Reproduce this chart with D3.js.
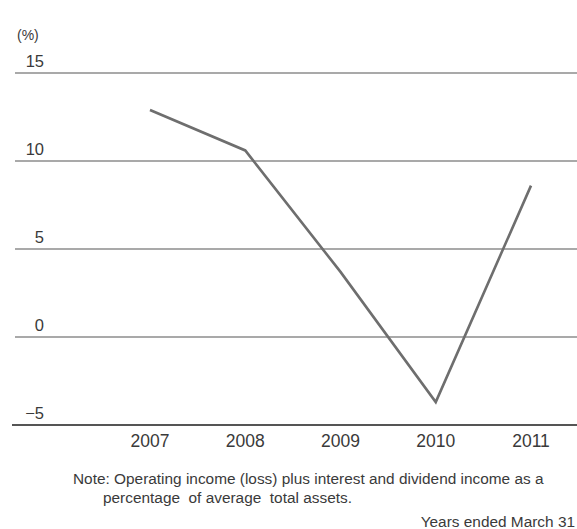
<!DOCTYPE html>
<html>
<head>
<meta charset="utf-8">
<script src="https://cdn.jsdelivr.net/npm/d3@7"></script>
<style>
  html, body { margin: 0; padding: 0; background: #fff; overflow: hidden; }
  svg { display: block; font-family: "Liberation Sans", Arial, sans-serif; }
</style>
</head>
<body>
<svg id="chart" width="577" height="529"></svg>
<script>
// Return on assets, fiscal years ended March 31
const years = [2007, 2008, 2009, 2010, 2011];
const roaValues = [12.9, 10.6, 3.7, -3.7, 8.6];
const yTicks = [15, 10, 5, 0, -5];
const unitLabel = "(%)";
const noteLines = [
  "Note: Operating income (loss) plus interest and dividend income as a",
  "percentage  of average  total assets."
];
const footerText = "Years ended March 31";

const svg = d3.select("#chart");

const x = d3.scaleLinear().domain([2007, 2011]).range([150, 531]);
const y = d3.scaleLinear().domain([-5, 15]).range([425, 73]);

const textColor = "#3a3a3a";

// horizontal gridlines (the -5 baseline doubles as the x axis)
svg.append("g")
  .selectAll("line")
  .data(yTicks)
  .join("line")
  .attr("x1", d => d === -5 ? 12 : 15)
  .attr("x2", 577)
  .attr("y1", d => y(d))
  .attr("y2", d => y(d))
  .attr("stroke", "#555")
  .attr("stroke-width", d => d === -5 ? 2.2 : 1.1);

// y tick labels sitting above each gridline
svg.append("g")
  .selectAll("text")
  .data(yTicks)
  .join("text")
  .attr("x", 44)
  .attr("y", d => y(d) - 6)
  .attr("text-anchor", "end")
  .attr("font-size", 16.5)
  .attr("fill", textColor)
  .text(d => d < 0 ? "\u2212" + Math.abs(d) : d);

svg.append("text")
  .attr("x", 17)
  .attr("y", 40)
  .attr("font-size", 14)
  .attr("fill", textColor)
  .text(unitLabel);

// year labels along the bottom axis
svg.append("g")
  .selectAll("text")
  .data(years)
  .join("text")
  .attr("x", d => x(d))
  .attr("y", 447)
  .attr("text-anchor", "middle")
  .attr("font-size", 17.5)
  .attr("fill", textColor)
  .text(d => d);

// data line
const line = d3.line()
  .x((d, i) => x(years[i]))
  .y(d => y(d));

svg.append("path")
  .datum(roaValues)
  .attr("d", line)
  .attr("fill", "none")
  .attr("stroke", "#6e6e6e")
  .attr("stroke-width", 2.6)
  .attr("stroke-linejoin", "miter");

// note and footer
svg.append("text")
  .attr("x", 73)
  .attr("y", 484)
  .attr("font-size", 15.4)
  .attr("fill", textColor)
  .text(noteLines[0]);

svg.append("text")
  .attr("x", 103)
  .attr("y", 503)
  .attr("font-size", 15.4)
  .attr("fill", textColor)
  .style("white-space", "pre")
  .text(noteLines[1]);

svg.append("text")
  .attr("x", 575)
  .attr("y", 527)
  .attr("text-anchor", "end")
  .attr("font-size", 15.4)
  .attr("fill", textColor)
  .text(footerText);
</script>
</body>
</html>
